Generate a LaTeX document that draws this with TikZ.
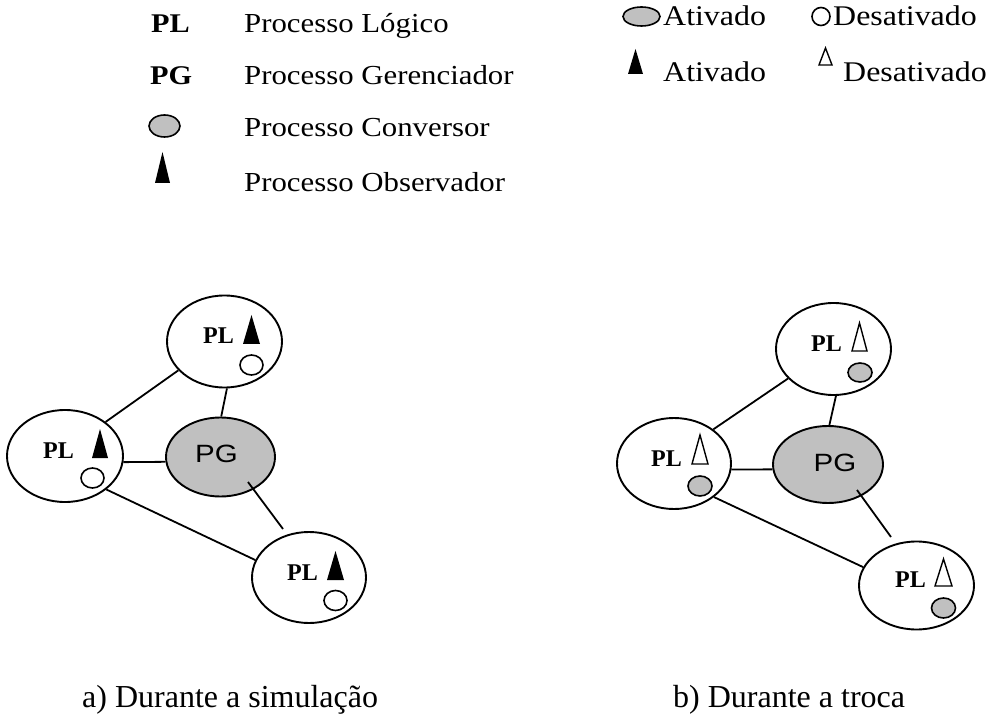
\documentclass[tikz,border=0pt]{standalone}
\usepackage{fontspec}
\usepackage{graphicx}
\setmainfont{Liberation Serif}
\newfontfamily\arialf{Liberation Sans}
\usetikzlibrary{shapes.geometric,calc}
\definecolor{gpgray}{HTML}{C0C0C0}
\newcommand\hstretch[1]{\scalebox{1.12}[1]{#1}}
\newcommand\pgstretch[1]{\scalebox{1.18}[1]{#1}}
\tikzset{
  plnode/.style={ellipse, draw, line width=1.9pt, fill=white, inner sep=0pt,
                 minimum width=115pt, minimum height=92pt},
  pgnode/.style={ellipse, draw, line width=1.9pt, fill=gpgray, inner sep=0pt,
                 minimum width=109pt, minimum height=79pt},
  pgtxt/.style={inner sep=0pt, anchor=center, font=\arialf\fontsize{25}{27}\selectfont},
  link/.style={line width=1.8pt},
  lbl/.style={anchor=base west, inner sep=0pt, font=\fontsize{27.5}{30}\selectfont},
  lblr/.style={anchor=base west, inner sep=0pt, font=\fontsize{28.5}{31}\selectfont},
  captxt/.style={anchor=base west, inner sep=0pt, font=\fontsize{32}{34}\selectfont},
  plt/.style={anchor=base west, inner sep=0pt, font=\bfseries\fontsize{24}{26}\selectfont},
  legb/.style={anchor=base west, inner sep=0pt, font=\bfseries\fontsize{27}{30}\selectfont},
  triopen/.style={draw, line width=1.4pt, fill=white},
  smallon/.style={draw, line width=1.6pt, fill=gpgray},
  smalloff/.style={draw, line width=1.6pt, fill=white},
}
\begin{document}
\begin{tikzpicture}[x=1pt,y=-1pt]
\useasboundingbox (0,0) rectangle (997,722);

% ---------- legend (left) ----------
\node[legb] (lpl) at (151,33) {\hstretch{PL}};
\node[lbl] (tpl) at (244,33) {\hstretch{Processo Lógico}};
\node[legb] (lpg) at (150,85) {\hstretch{PG}};
\node[lbl] (tpg) at (244,85) {\hstretch{Processo Gerenciador}};
\draw[smallon] (164.5,126) ellipse [x radius=15.5, y radius=11];
\node[lbl] (tconv) at (244,137) {\hstretch{Processo Conversor}};
\fill (155,183) -- (170,183) -- (162.5,152) -- cycle;
\node[lbl] (tobs) at (244,192) {\hstretch{Processo Observador}};

% ---------- legend (right) ----------
\draw[smallon] (641.5,16.5) ellipse [x radius=18.5, y radius=9.5];
\node[lblr] (ta1) at (663,26) {\hstretch{Ativado}};
\draw[smalloff] (821,16.5) circle [radius=9];
\node[lblr] (td1) at (833,26) {\hstretch{Desativado}};
\fill (628,74) -- (643,74) -- (635.5,49) -- cycle;
\node[lblr] (ta2) at (663,82) {\hstretch{Ativado}};
\draw[triopen] (819,65) -- (832,65) -- (825.5,48) -- cycle;
\node[lblr] (td2) at (843,82) {\hstretch{Desativado}};

% ---------- diagram a ----------
\node[plnode] (aT) at (224.5,341.5) {};
\node[plnode, minimum width=116pt] (aL) at (65,456) {};
\node[pgnode] (aG) at (220.5,457) {};
\node[plnode, minimum width=114pt, minimum height=91pt] (aB) at (309,577.5) {};

\draw[link] (aT.212) -- (aL.40);
\draw[link] (aT.-87) -- (aG.89);
\draw[link] (aL.-6) -- (aG.185);
\draw[link] (aL.-39) -- (aB.162);
\draw[link] ($(aG)+(27.5,25)$) -- ($(aB)+(-26,-48.5)$);

\node[plt] (aTt) at (203,344) {PL};
\fill (243,344) -- (260,344) -- (251.5,315) -- cycle;
\draw[smalloff] (251.5,365) ellipse [x radius=11.5, y radius=10];

\node[plt] (aLt) at (43,458) {PL};
\fill (92,458) -- (108,458) -- (100,429) -- cycle;
\draw[smalloff] (92.5,478) ellipse [x radius=11.5, y radius=10];

\node[plt] (aBt) at (287,580) {PL};
\fill (327,580) -- (344,580) -- (335.5,551) -- cycle;
\draw[smalloff] (335.5,600.5) ellipse [x radius=11.5, y radius=10];

\node[pgtxt] (aGt) at (216.5,453.5) {\pgstretch{PG}};

% ---------- diagram b ----------
\node[plnode] (bT) at (833.5,349) {};
\node[plnode, minimum width=114pt, minimum height=91pt] (bL) at (674,463.5) {};
\node[pgnode, minimum width=110pt, minimum height=77pt] (bG) at (828,464.5) {};
\node[plnode, minimum height=88pt] (bB) at (916.5,585.5) {};

\draw[link] (bT.213) -- (bL.41.5);
\draw[link] (bT.-87) -- (bG.88.5);
\draw[link] (bL.-6.5) -- (bG.185.7);
\draw[link] (bL.-40.7) -- (bB.161);
\draw[link] ($(bG)+(29,25.5)$) -- ($(bB)+(-25.5,-48.5)$);

\node[plt] (bTt) at (811,352) {PL};
\draw[triopen] (852,351) -- (867,351) -- (859.5,323) -- cycle;
\draw[smallon] (860,372.5) ellipse [x radius=12, y radius=9.5];

\node[plt] (bLt) at (651,466) {PL};
\draw[triopen] (692,464) -- (708,464) -- (700,435) -- cycle;
\draw[smallon] (700,486) ellipse [x radius=12, y radius=10];

\node[plt] (bBt) at (895,587) {PL};
\draw[triopen] (935,586) -- (952,586) -- (943.5,559) -- cycle;
\draw[smallon] (943.5,608) ellipse [x radius=12, y radius=10];

\node[pgtxt] (bGt) at (835,462.5) {\pgstretch{PG}};

% ---------- captions ----------
\node[captxt] (capa) at (82,707) {a) Durante a simulação};
\node[captxt] (capb) at (673,707) {b) Durante a troca};
\end{tikzpicture}
\end{document}
